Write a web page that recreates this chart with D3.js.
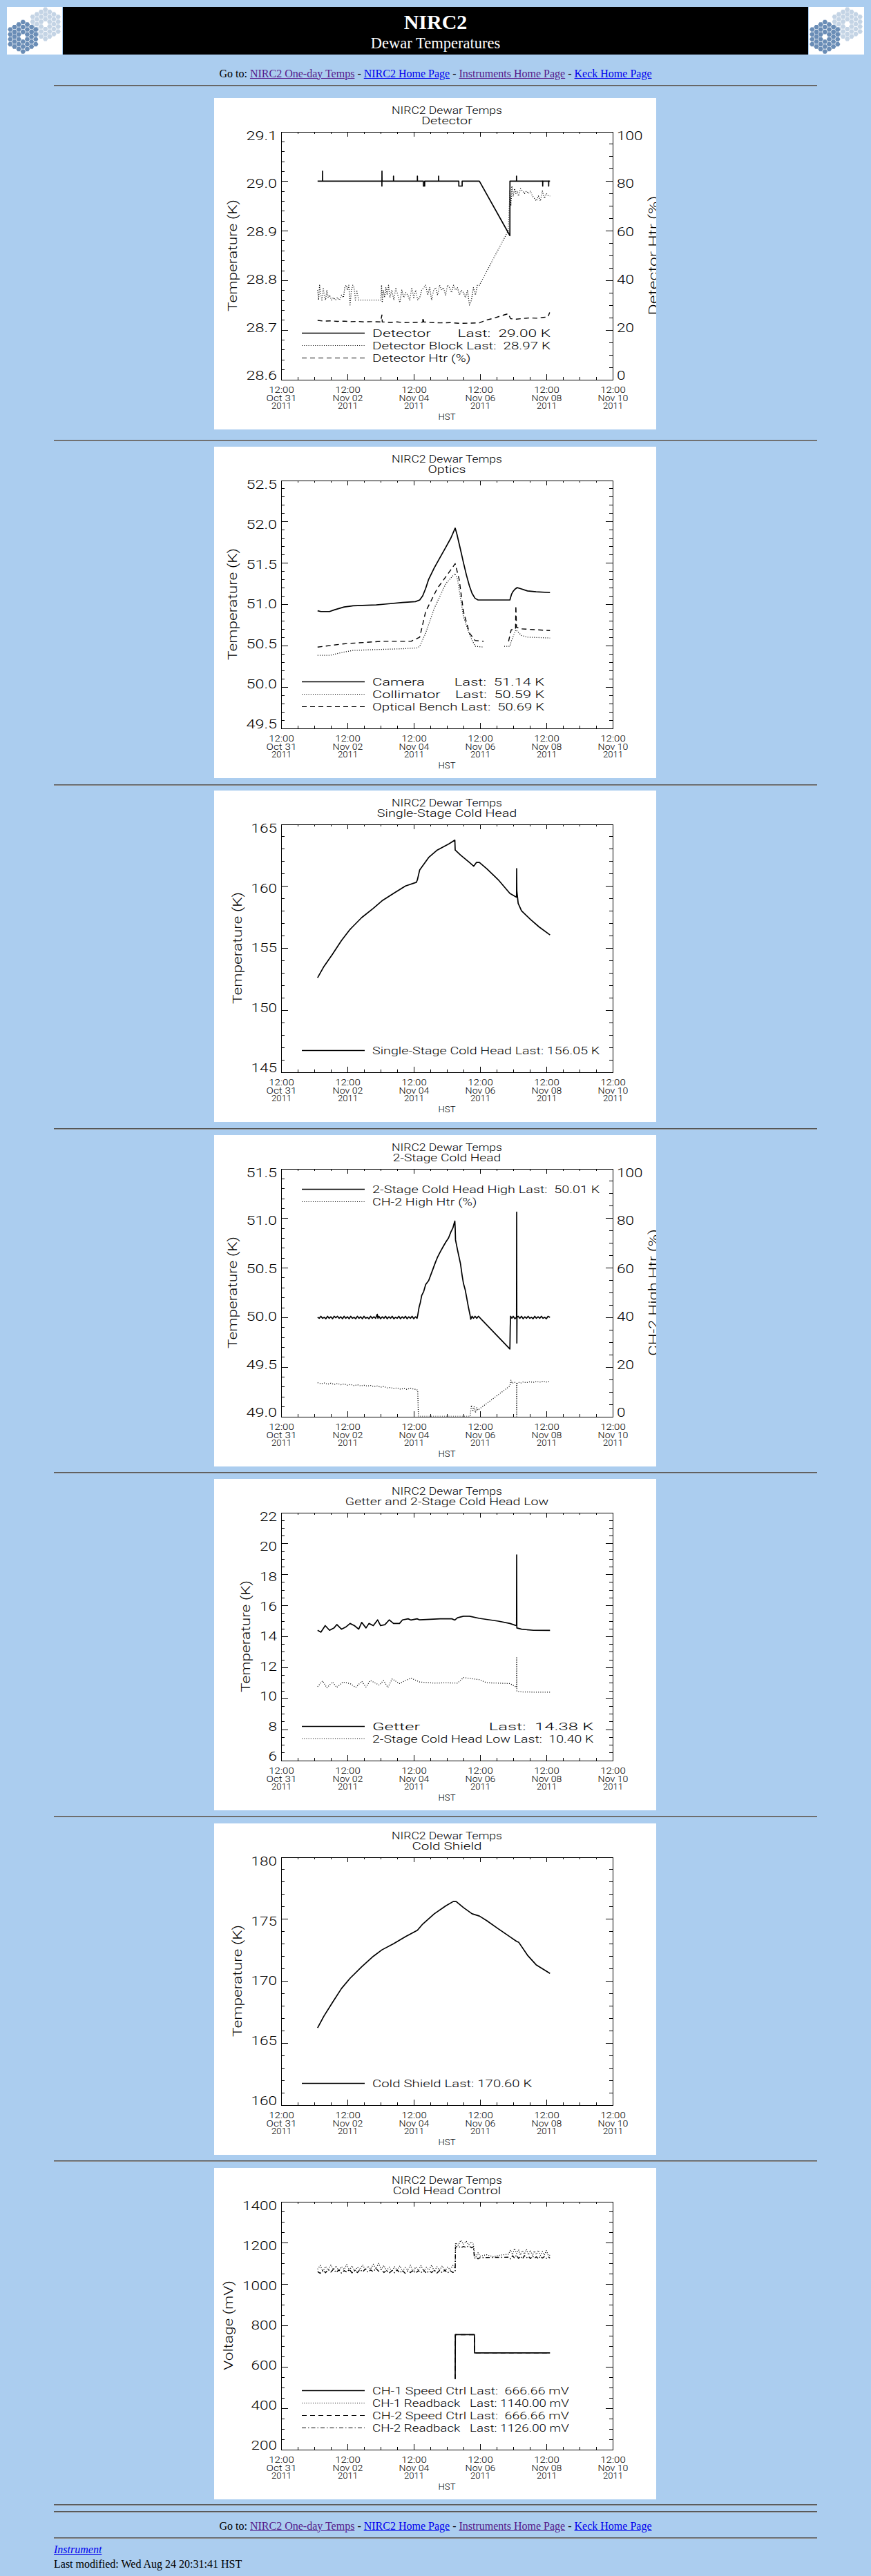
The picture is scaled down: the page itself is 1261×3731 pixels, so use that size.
<!DOCTYPE html>
<html>
<head>
<meta charset="utf-8">
<title>NIRC2 Dewar Temperatures</title>
<script src="https://cdn.jsdelivr.net/npm/d3@7"></script>
<style>
body { margin: 0; background: #abcdef; }
#page { position: relative; width: 1261px; height: 3731px; overflow: hidden; font-family: "Liberation Serif", "Times New Roman", serif; }
.abs { position: absolute; }
.hr { position: absolute; left: 78px; width: 1105px; height: 0; border-top: 1px solid #555; border-bottom: 1px solid #8c8c8c; }
.nav { position: absolute; left: 0; width: 1261px; text-align: center; font-size: 16px; line-height: 18px; color: #000; }
.foot { position: absolute; left: 78px; font-size: 16px; line-height: 18px; color: #000; }
a { text-decoration: underline; }
a.v { color: #551a8b; }
a.n { color: #0000ee; }
</style>
</head>
<body>
<div id="page"></div>
<script>
// times are day-of-November 2011, HST (1.0 = Nov 01 00:00, 0.5 = Oct 31 12:00)
const xTickDays = [0.5, 2.5, 4.5, 6.5, 8.5, 10.5];

// --- Detector ---
const detector = [[1.60,29.00],[1.75,29.00],[1.75,29.02],[1.752,29.00],[3.54,29.00],[3.54,28.99],[3.542,29.02],[3.544,29.00],
  [3.89,29.00],[3.89,29.01],[3.892,29.00],[4.61,29.00],[4.61,29.01],[4.612,29.00],[4.79,29.00],[4.79,28.99],[4.83,28.99],[4.83,29.00],
  [5.25,29.00],[5.25,29.01],[5.252,29.00],[5.86,29.00],[5.86,28.99],[5.96,28.99],[5.96,29.00],[6.48,29.00],[7.40,28.89],[7.402,29.00],
  [7.60,29.00],[7.60,29.01],[7.602,29.00],[8.39,29.00],[8.39,28.99],[8.392,29.00],[8.57,29.00],[8.57,28.99],[8.572,29.00],[8.61,29.00]];
const detBlock = [[1.60,28.78],[1.63,28.76],[1.66,28.79],[1.70,28.77],[1.73,28.76],[1.77,28.785],[1.80,28.77],[1.84,28.76],[1.88,28.78],
  [1.92,28.765],[1.96,28.77],[2.02,28.76],[2.08,28.765],[2.14,28.76],[2.20,28.765],[2.26,28.76],[2.32,28.77],[2.38,28.765],[2.42,28.785],
  [2.46,28.79],[2.50,28.78],[2.54,28.79],[2.58,28.75],[2.62,28.78],[2.66,28.79],[2.70,28.785],[2.74,28.76],[2.78,28.78],[2.84,28.76],
  [3.00,28.76],[3.20,28.76],[3.40,28.76],[3.50,28.76],[3.53,28.79],[3.55,28.755],[3.58,28.78],[3.62,28.765],[3.66,28.785],[3.70,28.77],
  [3.74,28.79],[3.78,28.765],[3.84,28.78],[3.90,28.76],[3.96,28.785],[4.02,28.77],[4.08,28.755],[4.14,28.78],[4.20,28.765],[4.26,28.775],
  [4.32,28.77],[4.38,28.76],[4.44,28.785],[4.50,28.765],[4.56,28.78],[4.62,28.76],[4.68,28.765],[4.74,28.78],[4.80,28.785],[4.86,28.79],
  [4.92,28.77],[4.98,28.785],[5.04,28.76],[5.10,28.78],[5.16,28.785],[5.22,28.77],[5.28,28.79],[5.34,28.78],[5.40,28.785],[5.46,28.77],
  [5.52,28.79],[5.58,28.785],[5.64,28.775],[5.70,28.79],[5.76,28.78],[5.82,28.785],[5.88,28.77],[5.94,28.78],[6.00,28.775],[6.06,28.765],
  [6.12,28.78],[6.18,28.75],[6.24,28.76],[6.30,28.785],[6.36,28.77],[6.42,28.79],[6.48,28.79],[7.35,28.90],[7.40,28.98],[7.43,28.95],
  [7.46,28.99],[7.50,28.97],[7.54,28.985],[7.58,28.975],[7.62,28.98],[7.66,28.97],[7.72,28.985],[7.78,28.98],[7.84,28.975],[7.90,28.98],
  [7.96,28.975],[8.02,28.98],[8.08,28.97],[8.14,28.965],[8.20,28.96],[8.26,28.97],[8.32,28.96],[8.38,28.98],[8.44,28.965],[8.50,28.975],
  [8.56,28.97],[8.61,28.97]];
const detHtr = [[1.60,23.8],[1.80,23.5],[2.00,23.6],[2.20,23.4],[2.40,23.5],[2.60,23.3],[2.80,23.4],[3.00,23.2],[3.20,23.3],[3.50,23.2],
  [3.54,26.0],[3.55,23.2],[3.80,23.0],[4.00,23.2],[4.20,22.9],[4.50,23.0],[4.77,23.1],[4.78,25.0],[4.80,23.2],[5.00,23.0],[5.30,22.8],
  [5.60,22.9],[5.90,22.6],[6.20,22.7],[6.48,22.8],[6.70,24.0],[6.90,24.6],[7.10,25.5],[7.35,26.5],[7.42,24.5],[7.60,24.3],[7.80,24.6],
  [8.00,24.8],[8.20,24.7],[8.40,25.0],[8.55,25.2],[8.60,27.0]];

// --- Optics ---
const camera = [[1.60,50.92],[1.70,50.91],[1.96,50.91],[2.10,50.93],[2.40,50.965],[2.67,50.98],[3.37,50.99],[3.63,51.00],[4.16,51.02],
  [4.55,51.03],[4.68,51.05],[4.77,51.10],[4.86,51.19],[4.95,51.30],[5.12,51.44],[5.30,51.57],[5.47,51.69],[5.62,51.80],[5.75,51.92],
  [5.80,51.85],[5.91,51.66],[6.00,51.50],[6.09,51.35],[6.18,51.22],[6.26,51.13],[6.35,51.07],[6.44,51.05],[7.40,51.05],[7.45,51.12],
  [7.49,51.15],[7.55,51.18],[7.62,51.20],[7.70,51.19],[7.93,51.16],[8.19,51.15],[8.61,51.14]];
const collimator = [[1.60,50.38],[1.96,50.38],[2.40,50.42],[2.67,50.44],[3.37,50.45],[4.16,50.46],[4.61,50.47],[4.68,50.49],[4.86,50.65],
  [5.12,50.95],[5.47,51.25],[5.74,51.37],[5.82,51.30],[6.00,50.85],[6.18,50.63],[6.35,50.49],[6.61,50.48],[6.90,null],[7.23,50.49],
  [7.40,50.49],[7.44,50.55],[7.58,50.69],[7.75,50.62],[7.93,50.60],[8.61,50.59]];
const bench = [[1.60,50.48],[2.40,50.52],[3.54,50.55],[4.42,50.55],[4.68,50.60],[4.86,50.91],[5.21,51.19],[5.61,51.41],[5.75,51.49],
  [5.87,51.30],[6.00,50.91],[6.18,50.65],[6.35,50.56],[6.61,50.55],[6.90,null],[7.36,50.55],[7.44,50.69],[7.57,50.70],[7.58,50.98],
  [7.60,50.72],[7.75,50.70],[8.19,50.69],[8.61,50.68]];

// --- Single-Stage Cold Head ---
const coldHead1 = [[1.60,152.6],[1.79,153.5],[2.05,154.5],[2.32,155.6],[2.58,156.5],[2.93,157.45],[3.28,158.2],[3.54,158.8],[3.89,159.4],
  [4.25,160.0],[4.58,160.3],[4.61,160.5],[4.68,161.3],[4.95,162.3],[5.21,162.9],[5.56,163.4],[5.74,163.7],[5.75,162.9],[5.91,162.5],
  [6.18,161.9],[6.31,161.6],[6.39,161.9],[6.48,161.9],[6.70,161.4],[7.05,160.5],[7.40,159.4],[7.60,159.1],[7.605,161.4],[7.61,159.6],
  [7.65,158.6],[7.75,158.0],[8.02,157.3],[8.28,156.7],[8.61,156.05]];

// --- 2-Stage Cold Head ---
const coldHead2High = [[1.60,50.00],[1.65,49.99],[1.70,50.01],[1.75,49.99],[1.80,50.00],[1.85,49.985],[1.90,50.01],[1.95,49.99],[2.00,50.005],
  [2.05,49.985],[2.10,50.01],[2.15,49.995],[2.20,50.01],[2.25,49.99],[2.30,50.005],[2.35,49.985],[2.40,50.01],[2.45,49.99],[2.50,50.005],
  [2.55,49.985],[2.60,50.01],[2.65,49.99],[2.70,50.00],[2.75,49.985],[2.80,50.01],[2.85,49.99],[2.90,50.005],[2.95,49.985],[3.00,50.01],
  [3.05,49.99],[3.10,50.00],[3.15,49.985],[3.20,50.01],[3.25,49.99],[3.30,50.005],[3.35,49.99],[3.40,50.03],[3.42,49.99],[3.45,50.01],
  [3.50,49.985],[3.55,50.005],[3.60,49.99],[3.65,50.01],[3.70,49.985],[3.75,50.005],[3.80,49.99],[3.85,50.01],[3.90,49.985],[3.95,50.00],
  [4.00,49.99],[4.05,50.01],[4.10,49.985],[4.15,50.005],[4.20,49.99],[4.25,50.01],[4.30,49.985],[4.35,50.005],[4.40,49.99],[4.45,50.01],
  [4.50,49.985],[4.55,50.005],[4.60,49.99],[4.62,50.02],[4.66,50.10],[4.70,50.15],[4.74,50.22],[4.80,50.26],[4.86,50.33],[4.95,50.37],
  [5.05,50.46],[5.15,50.55],[5.21,50.60],[5.30,50.66],[5.40,50.72],[5.47,50.76],[5.55,50.80],[5.62,50.86],[5.68,50.90],[5.72,50.95],
  [5.74,50.97],[5.75,50.90],[5.76,50.78],[5.82,50.68],[5.91,50.54],[5.96,50.42],[6.00,50.34],[6.05,50.28],[6.09,50.21],[6.15,50.10],
  [6.20,50.02],[6.22,49.98],[6.26,50.01],[6.30,49.99],[6.35,50.01],[6.40,49.99],[6.45,50.01],[6.48,50.00],[7.40,49.68],[7.41,49.90],
  [7.42,50.01],[7.46,49.99],[7.50,50.01],[7.55,49.985],[7.60,50.00],[7.605,51.06],[7.61,49.74],[7.615,50.00],[7.65,50.01],[7.70,49.99],
  [7.75,50.01],[7.80,49.985],[7.85,50.005],[7.90,49.99],[7.95,50.01],[8.00,49.99],[8.05,50.00],[8.10,49.985],[8.15,50.01],[8.20,49.99],
  [8.25,50.005],[8.30,49.99],[8.35,50.01],[8.40,49.99],[8.45,50.00],[8.50,49.985],[8.55,50.01],[8.61,50.00]];
const ch2Htr = [[1.60,13.6],[1.70,13.2],[1.80,13.5],[1.90,13.0],[2.00,13.4],[2.10,12.9],[2.20,13.3],[2.30,12.8],[2.40,13.1],[2.50,12.6],
  [2.60,12.9],[2.70,12.4],[2.80,12.8],[2.90,12.3],[3.00,12.6],[3.10,12.2],[3.20,12.5],[3.30,12.0],[3.40,12.3],[3.50,11.8],[3.60,12.1],
  [3.70,11.5],[3.80,11.7],[3.90,11.2],[4.00,11.5],[4.10,11.0],[4.20,11.3],[4.30,10.9],[4.40,11.4],[4.50,11.0],[4.58,10.9],[4.62,10.5],
  [4.64,0],[6.20,0],[6.24,4.5],[6.28,2.0],[6.32,4.0],[6.36,1.5],[6.40,3.5],[6.44,2.5],[6.48,3.0],[7.40,12.3],[7.43,14.6],[7.47,13.3],
  [7.52,13.8],[7.60,13.5],[7.605,0],[7.61,13.2],[7.66,13.8],[7.72,13.4],[7.80,13.9],[7.90,13.6],[8.00,14.0],[8.10,13.7],[8.20,14.1],
  [8.30,13.8],[8.40,14.2],[8.50,13.9],[8.61,14.1]];

// --- Getter and 2-Stage Cold Head Low ---
const getter = [[1.60,14.39],[1.70,14.27],[1.83,14.69],[1.96,14.39],[2.10,14.55],[2.18,14.76],[2.32,14.46],[2.45,14.60],[2.58,14.83],
  [2.71,14.69],[2.84,14.46],[2.93,14.90],[3.06,14.54],[3.15,14.83],[3.28,14.69],[3.41,15.06],[3.50,14.69],[3.63,14.75],[3.76,15.06],
  [3.89,14.83],[4.07,14.83],[4.16,15.06],[4.33,15.13],[4.42,15.05],[4.60,15.13],[4.68,15.06],[5.30,15.13],[5.65,15.13],[5.74,15.05],
  [5.82,15.20],[6.00,15.30],[6.18,15.30],[6.48,15.16],[7.05,14.98],[7.40,14.83],[7.57,14.71],[7.60,14.70],[7.605,19.26],[7.61,14.54],
  [7.75,14.46],[8.11,14.39],[8.61,14.38]];
const coldHead2Low = [[1.60,10.75],[1.75,11.12],[1.88,10.68],[2.05,11.05],[2.18,10.70],[2.36,11.05],[2.58,10.95],[2.75,10.70],[2.93,11.10],
  [3.06,10.72],[3.19,11.15],[3.46,10.85],[3.59,11.15],[3.72,10.70],[3.85,11.25],[4.07,10.95],[4.25,11.15],[4.42,11.30],[4.68,11.05],
  [5.12,10.98],[5.47,11.00],[5.82,10.98],[6.00,11.34],[6.48,11.20],[6.70,11.00],[7.05,10.98],[7.40,10.95],[7.57,10.75],[7.60,10.70],
  [7.605,12.68],[7.61,10.46],[7.75,10.41],[8.11,10.40],[8.61,10.40]];

// --- Cold Shield ---
const coldShield = [[1.60,166.2],[1.79,167.15],[2.05,168.26],[2.32,169.38],[2.58,170.21],[2.93,171.14],[3.28,171.98],[3.54,172.5],
  [3.89,173.0],[4.25,173.56],[4.61,174.08],[4.77,174.58],[5.12,175.41],[5.47,176.06],[5.69,176.4],[5.78,176.4],[6.00,175.91],[6.26,175.41],
  [6.48,175.23],[6.70,174.86],[7.05,174.2],[7.40,173.56],[7.60,173.19],[7.67,173.1],[7.93,172.07],[8.19,171.3],[8.61,170.6]];

// --- Cold Head Control ---
const ch1Speed = [[5.75,540],[5.755,755],[6.33,755],[6.335,667],[8.61,666.66]];
const ch2Speed = [[5.75,540],[5.755,755],[6.33,755],[6.335,667],[8.61,666.66]];
const ch1Read = [[1.60,1072],[1.68,1090],[1.76,1060],[1.84,1085],[1.92,1068],[2.00,1092],[2.08,1070],[2.16,1088],[2.24,1062],[2.32,1084],
  [2.40,1071],[2.48,1095],[2.56,1066],[2.64,1089],[2.72,1060],[2.80,1082],[2.88,1070],[2.96,1093],[3.04,1068],[3.12,1087],[3.20,1072],
  [3.28,1096],[3.36,1074],[3.44,1100],[3.52,1070],[3.60,1090],[3.68,1065],[3.76,1082],[3.84,1060],[3.92,1084],[4.00,1067],[4.08,1088],
  [4.16,1062],[4.24,1080],[4.32,1068],[4.40,1091],[4.48,1060],[4.56,1083],[4.64,1066],[4.72,1089],[4.80,1062],[4.88,1081],[4.96,1068],
  [5.04,1092],[5.12,1061],[5.20,1084],[5.28,1067],[5.36,1088],[5.44,1062],[5.52,1082],[5.60,1070],[5.68,1090],[5.75,1075],[5.76,1200],
  [5.84,1188],[5.92,1212],[6.00,1192],[6.08,1208],[6.16,1190],[6.24,1205],[6.30,1192],[6.33,1145],[6.38,1132],[6.44,1152],[6.50,1135],
  [6.70,1142],[6.90,1132],[7.10,1140],[7.36,1145],[7.42,1165],[7.48,1142],[7.54,1172],[7.60,1148],[7.66,1166],[7.72,1140],[7.78,1162],
  [7.84,1145],[7.90,1168],[7.96,1141],[8.02,1163],[8.08,1138],[8.14,1160],[8.20,1143],[8.26,1164],[8.32,1139],[8.38,1158],[8.44,1141],
  [8.50,1162],[8.56,1138],[8.61,1140]];
const ch2Read = [[1.60,1060],[1.68,1052],[1.76,1068],[1.84,1055],[1.92,1070],[2.00,1058],[2.08,1072],[2.16,1056],[2.24,1069],[2.32,1053],
  [2.40,1065],[2.48,1058],[2.56,1071],[2.64,1054],[2.72,1067],[2.80,1056],[2.88,1070],[2.96,1059],[3.04,1073],[3.12,1057],[3.20,1068],
  [3.28,1060],[3.36,1076],[3.44,1062],[3.52,1072],[3.60,1056],[3.68,1067],[3.76,1053],[3.84,1065],[3.92,1055],[4.00,1068],[4.08,1054],
  [4.16,1066],[4.24,1052],[4.32,1064],[4.40,1056],[4.48,1067],[4.56,1053],[4.64,1065],[4.72,1055],[4.80,1068],[4.88,1052],[4.96,1064],
  [5.04,1056],[5.12,1067],[5.20,1053],[5.28,1066],[5.36,1055],[5.44,1068],[5.52,1054],[5.60,1065],[5.68,1056],[5.75,1060],[5.76,1178],
  [5.84,1184],[5.92,1175],[6.00,1182],[6.08,1177],[6.16,1185],[6.24,1176],[6.30,1180],[6.33,1125],[6.38,1130],[6.44,1122],[6.50,1128],
  [7.36,1130],[7.42,1122],[7.48,1137],[7.54,1126],[7.60,1140],[7.66,1124],[7.72,1135],[7.78,1122],[7.84,1138],[7.90,1127],[7.96,1134],
  [8.02,1123],[8.08,1136],[8.14,1125],[8.20,1132],[8.26,1122],[8.32,1135],[8.38,1126],[8.44,1133],[8.50,1124],[8.56,1132],[8.61,1126]];

// axis ticks
const yTicks1 = [28.6, 28.7, 28.8, 28.9, 29.0, 29.1];
const yTicks2 = [49.5, 50.0, 50.5, 51.0, 51.5, 52.0, 52.5];
const yTicks3 = [145, 150, 155, 160, 165];
const yTicks4 = [49.0, 49.5, 50.0, 50.5, 51.0, 51.5];
const yTicks5 = [6, 8, 10, 12, 14, 16, 18, 20, 22];
const yTicks6 = [160, 165, 170, 175, 180];
const yTicks7 = [200, 400, 600, 800, 1000, 1200, 1400];
const pctTicks = [0, 20, 40, 60, 80, 100];

const subtitles = ["Detector", "Optics", "Single-Stage Cold Head", "2-Stage Cold Head",
  "Getter and 2-Stage Cold Head Low", "Cold Shield", "Cold Head Control"];

const panelTops = [142, 647, 1145, 1644, 2142, 2641, 3140];
const hrTops = [123, 637, 1136, 1634, 2132, 2630, 3129, 3627, 3637, 3675];

const styles = {
  solid: {w: 1.7, dash: null},
  dotted: {w: 1.3, dash: "1,2.2"},
  dashed: {w: 1.4, dash: "7,5"},
  dashdot: {w: 1.4, dash: "6,3,1.5,3"}
};

const f1 = d3.format(".1f"), fd = d3.format("d");
const panels = [
  {yTicks: yTicks1, minor: 5, fmt: f1, yTitle: "Temperature (K)", right: pctTicks, rMinor: 4, rTitle: "Detector Htr (%)",
   series: [{d: detector, s: "solid"}, {d: detBlock, s: "dotted"}, {d: detHtr, s: "dashed", r: true}],
   legend: [["Detector       Last:  29.00 K", "solid"], ["Detector Block Last:  28.97 K", "dotted"], ["Detector Htr (%)", "dashed"]]},
  {yTicks: yTicks2, minor: 5, fmt: f1, yTitle: "Temperature (K)",
   series: [{d: camera, s: "solid"}, {d: collimator, s: "dotted"}, {d: bench, s: "dashed"}],
   legend: [["Camera        Last:  51.14 K", "solid"], ["Collimator    Last:  50.59 K", "dotted"], ["Optical Bench Last:  50.69 K", "dashed"]]},
  {yTicks: yTicks3, minor: 5, fmt: fd, yTitle: "Temperature (K)",
   series: [{d: coldHead1, s: "solid"}],
   legend: [["Single-Stage Cold Head Last: 156.05 K", "solid"]]},
  {yTicks: yTicks4, minor: 5, fmt: f1, yTitle: "Temperature (K)", right: pctTicks, rMinor: 4, rTitle: "CH-2 High Htr (%)",
   series: [{d: coldHead2High, s: "solid"}, {d: ch2Htr, s: "dotted", r: true}], legendTop: true,
   legend: [["2-Stage Cold Head High Last:  50.01 K", "solid"], ["CH-2 High Htr (%)", "dotted"]]},
  {yTicks: yTicks5, minor: 4, fmt: fd, yTitle: "Temperature (K)",
   series: [{d: getter, s: "solid"}, {d: coldHead2Low, s: "dotted"}],
   legend: [["Getter                Last:  14.38 K", "solid"], ["2-Stage Cold Head Low Last:  10.40 K", "dotted"]]},
  {yTicks: yTicks6, minor: 5, fmt: fd, yTitle: "Temperature (K)",
   series: [{d: coldShield, s: "solid"}],
   legend: [["Cold Shield Last: 170.60 K", "solid"]]},
  {yTicks: yTicks7, minor: 4, fmt: fd, yTitle: "Voltage (mV)",
   series: [{d: ch1Read, s: "dotted"}, {d: ch2Read, s: "dashdot"}, {d: ch2Speed, s: "dashed"}, {d: ch1Speed, s: "solid"}],
   legend: [["CH-1 Speed Ctrl Last:  666.66 mV", "solid"], ["CH-1 Readback   Last: 1140.00 mV", "dotted"],
            ["CH-2 Speed Ctrl Last:  666.66 mV", "dashed"], ["CH-2 Readback   Last: 1126.00 mV", "dashdot"]]}
];

const page = d3.select("#page");
const DAY = 864e5, T0 = Date.UTC(2011, 9, 31);
const toDate = t => new Date(T0 + t * DAY);
const ML = 97, MT = 48.5, iw = 480, ih = 359;
const x = d3.scaleUtc().domain([toDate(xTickDays[0]), toDate(xTickDays[xTickDays.length - 1])]).range([0, iw]);
const xMajor = xTickDays.map(toDate);
const xMinor = d3.utcHour.every(12).range(x.domain()[0], new Date(+x.domain()[1] + 1));

// stretch text to the wide IDL vector font
function fit(sel, per) {
  sel.attr("lengthAdjust", "spacingAndGlyphs").attr("textLength", function() { return this.textContent.length * per; });
}
const numW = s => s.replace(/[^0-9]/g, "").length * 12.5 + s.replace(/[0-9]/g, "").length * 7;
function minorsOf(ticks, n) {
  const out = [];
  for (let i = 0; i < ticks.length - 1; i++) {
    const st = (ticks[i + 1] - ticks[i]) / n;
    for (let k = 1; k < n; k++) out.push(ticks[i] + k * st);
  }
  return out;
}

// ---- header ----
const banner = page.append("svg").attr("class", "abs").style("left", "10px").style("top", "10px")
  .attr("width", 1242).attr("height", 69);
banner.append("rect").attr("x", 81).attr("width", 1079).attr("height", 69).attr("fill", "#000");

function logo(sel, left) {
  const s = sel.append("g").attr("transform", `translate(${left},0)`);
  s.append("rect").attr("width", 80).attr("height", 69).attr("fill", "#fff");
  const R = 4.1, cells = [];
  for (let q = -3; q <= 3; q++) for (let r = -3; r <= 3; r++) {
    const dd = Math.max(Math.abs(q), Math.abs(r), Math.abs(q + r));
    if (dd >= 1 && dd <= 3) cells.push([1.5 * R * q, Math.sqrt(3) * R * (r + q / 2)]);
  }
  const hex = ([px, py]) => d3.range(6).map(i => [px + R * 0.9 * Math.cos(i * Math.PI / 3), py + R * 0.9 * Math.sin(i * Math.PI / 3)]);
  s.append("clipPath").attr("id", "lc" + left).append("rect").attr("width", 80).attr("height", 69);
  const cg = s.append("g").attr("clip-path", `url(#lc${left})`);
  [[55.7, 25, "#c4d4e5"], [23.3, 43.3, "#6a8db6"]].forEach(([cx, cy, c]) => {
    cg.append("g").attr("transform", `translate(${cx},${cy})`).selectAll("path").data(cells).join("path")
      .attr("d", d => "M" + hex(d).join("L") + "Z").attr("fill", c);
  });
}
logo(banner, 0);
logo(banner, 1161);
banner.append("text").attr("x", 620.5).attr("y", 31.7).attr("text-anchor", "middle").attr("fill", "#fff")
  .attr("font-family", "Liberation Serif, serif").attr("font-weight", "bold").attr("font-size", 30).text("NIRC2");
banner.append("text").attr("x", 620.5).attr("y", 60).attr("text-anchor", "middle").attr("fill", "#fff")
  .attr("font-family", "Liberation Serif, serif").attr("font-size", 22.5).text("Dewar Temperatures");

function nav(top) {
  page.append("div").attr("class", "nav").style("top", top + "px")
    .html('Go to: <a class="v" href="#">NIRC2 One-day Temps</a> - <a class="n" href="#">NIRC2 Home Page</a> - ' +
          '<a class="v" href="#">Instruments Home Page</a> - <a class="n" href="#">Keck Home Page</a>');
}
nav(97.6);
hrTops.forEach(t => page.append("div").attr("class", "hr").style("top", t + "px"));

// ---- panels ----
panels.forEach((p, i) => {
  const svg = page.append("svg").attr("class", "abs").style("left", "310px").style("top", panelTops[i] + "px")
    .attr("width", 640).attr("height", 480).style("background", "#fff")
    .attr("font-family", "Roboto, Liberation Sans, Arial, sans-serif").attr("font-weight", 300);
  svg.append("text").attr("x", ML + iw / 2).attr("y", 23).attr("text-anchor", "middle").attr("font-size", 14)
    .text("NIRC2 Dewar Temps").call(fit, 9.4);
  svg.append("text").attr("x", ML + iw / 2).attr("y", 38).attr("text-anchor", "middle").attr("font-size", 14)
    .text(subtitles[i]).call(fit, 9.2);

  const g = svg.append("g").attr("transform", `translate(${ML},${MT})`);
  const y = d3.scaleLinear().domain(d3.extent(p.yTicks)).range([ih, 0]);
  const yR = p.right ? d3.scaleLinear().domain(d3.extent(p.right)).range([ih, 0]) : y;
  const rTicks = p.right || p.yTicks;

  // minor ticks
  [[d3.axisBottom, ih], [d3.axisTop, 0]].forEach(([ax, ty]) => {
    g.append("g").attr("transform", `translate(0,${ty})`)
      .call(ax(x).tickValues(xMinor).tickSize(-3.6).tickSizeOuter(0).tickFormat(""));
  });
  g.append("g").call(d3.axisLeft(y).tickValues(minorsOf(p.yTicks, p.minor)).tickSize(-4.8).tickSizeOuter(0).tickFormat(""));
  g.append("g").attr("transform", `translate(${iw},0)`)
    .call(d3.axisRight(yR).tickValues(minorsOf(rTicks, p.rMinor || p.minor)).tickSize(-4.8).tickSizeOuter(0).tickFormat(""));

  // major ticks
  const xb = g.append("g").attr("transform", `translate(0,${ih})`)
    .call(d3.axisBottom(x).tickValues(xMajor).tickSize(-7.2).tickSizeOuter(0).tickFormat(""));
  g.append("g").call(d3.axisTop(x).tickValues(xMajor).tickSize(-7.2).tickSizeOuter(0).tickFormat(""));
  const yl = g.append("g").call(d3.axisLeft(y).tickValues(p.yTicks).tickSize(-9.6).tickSizeOuter(0).tickPadding(6).tickFormat(p.fmt));
  const yr = g.append("g").attr("transform", `translate(${iw},0)`)
    .call(d3.axisRight(yR).tickValues(rTicks).tickSize(-9.6).tickSizeOuter(0).tickPadding(6).tickFormat(p.right ? fd : ""));

  g.selectAll(".domain, .tick line").attr("stroke", "#000").attr("stroke-width", 1).attr("shape-rendering", "crispEdges");
  g.selectAll("g").attr("font-family", null).attr("font-size", null);

  // x labels: time / date / year
  xb.selectAll(".tick").each(function(d) {
    const tk = d3.select(this);
    tk.select("text").remove();
    [["%H:%M", 19.8], ["%b %d", 31.3], ["%Y", 42.8]].forEach(([f, yy]) => {
      tk.append("text").attr("y", yy).attr("text-anchor", "middle").attr("font-size", 12.5).attr("fill", "#000")
        .text(d3.utcFormat(f)(d)).call(fit, 7.3);
    });
  });
  g.append("text").attr("x", iw / 2).attr("y", ih + 58.3).attr("text-anchor", "middle").attr("font-size", 12.5)
    .attr("textLength", 25).attr("lengthAdjust", "spacingAndGlyphs").text("HST");

  // y labels, pulled slightly toward the middle as in the IDL plot
  const yLab = (sel, sc) => sel.selectAll(".tick text").attr("font-size", 18.5).attr("fill", "#000")
    .attr("y", d => (sc(d) - ih / 2) * -0.033)
    .attr("lengthAdjust", "spacingAndGlyphs").attr("textLength", function() { return numW(this.textContent); });
  yLab(yl, y);
  const lw = d3.max(p.yTicks, d => numW(p.fmt(d)));
  g.append("text").attr("transform", `translate(${-(6 + lw + 14)},${ih / 2}) rotate(-90)`).attr("text-anchor", "middle")
    .attr("font-size", 18).text(p.yTitle).call(fit, 10.8);
  if (p.right) {
    yLab(yr, yR);
    const rw = d3.max(p.right, d => numW(fd(d)));
    g.append("text").attr("transform", `translate(${iw + 6 + rw + 21.5},${ih / 2}) rotate(-90)`).attr("text-anchor", "middle")
      .attr("font-size", 18).text(p.rTitle).call(fit, 10.8);
  }

  // data
  svg.append("clipPath").attr("id", "clip" + i).append("rect").attr("width", iw).attr("height", ih);
  const dg = g.append("g").attr("clip-path", `url(#clip${i})`);
  p.series.forEach(se => {
    const sc = se.r ? yR : y, st = styles[se.s];
    const line = d3.line().defined(d => d[1] != null).x(d => x(toDate(d[0]))).y(d => sc(d[1]));
    dg.append("path").datum(se.d).attr("d", line).attr("fill", "none").attr("stroke", "#000")
      .attr("stroke-width", st.w).attr("stroke-dasharray", st.dash).attr("stroke-linejoin", "round");
  });

  // legend
  p.legend.forEach(([txt, s], k) => {
    const cy = p.legendTop ? 30 + k * 18 : ih - 31 - (p.legend.length - 1 - k) * 18;
    const st = styles[s];
    g.append("line").attr("x1", 30).attr("x2", 121).attr("y1", cy).attr("y2", cy).attr("stroke", "#000")
      .attr("stroke-width", st.w * 0.85).attr("stroke-dasharray", st.dash);
    g.append("text").attr("x", 132).attr("y", cy + 5.3).attr("font-size", 15).attr("xml:space", "preserve")
      .style("white-space", "pre").text(txt).call(fit, 8.9);
  });
});

// ---- footer ----
nav(3649.6);
page.append("div").attr("class", "foot").style("top", "3683.6px")
  .html('<a class="n" href="#"><i>Instrument</i></a>');
page.append("div").attr("class", "foot").style("top", "3704.6px").text("Last modified: Wed Aug 24 20:31:41 HST");
</script>
</body>
</html>
